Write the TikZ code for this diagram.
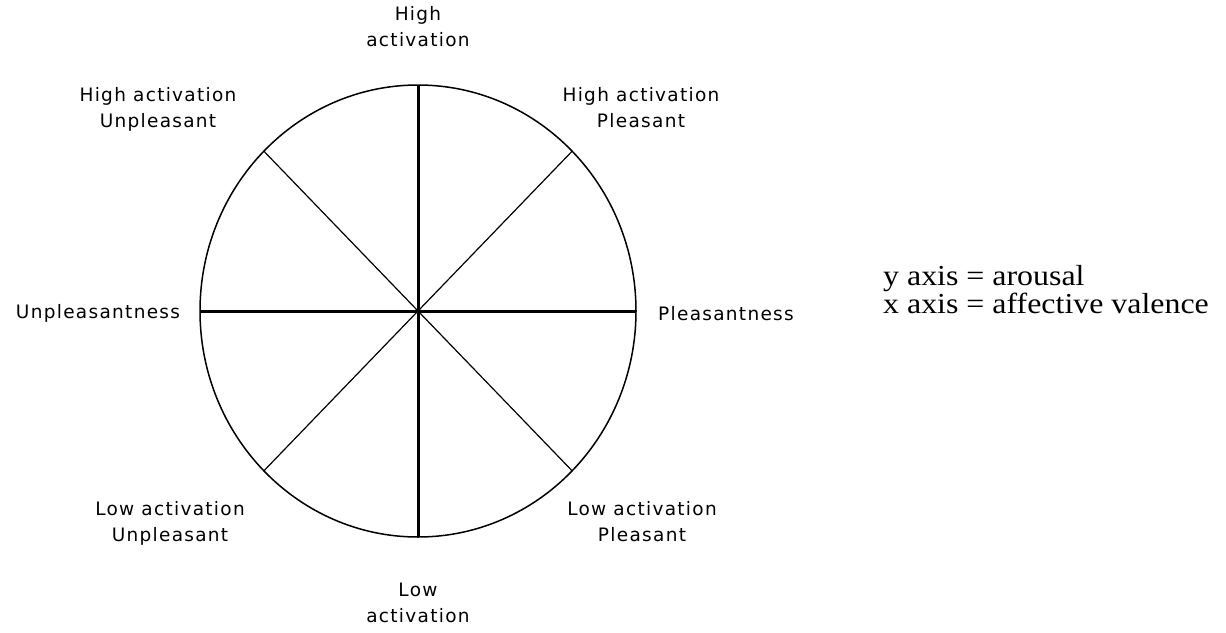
\documentclass[tikz,border=0pt]{standalone}
\usepackage{fontspec}
\newfontfamily\labfont[LetterSpace=7]{DejaVu Sans}
\newfontfamily\notefont[FakeStretch=1.1]{Liberation Serif}
\begin{document}
\begin{tikzpicture}[x=1pt,y=-1pt,
  lab/.style={anchor=base,align=center,inner sep=0pt,font=\labfont\fontsize{18.5}{26}\selectfont},
  note/.style={anchor=base west,align=left,inner sep=0pt,font=\notefont\fontsize{29}{24}\selectfont},
  axis/.style={line width=3pt},
  diag/.style={line width=1.2pt},
  rim/.style={line width=1.5pt}]
\useasboundingbox[fill=white] (0,0) rectangle (1226,632);
\coordinate (C) at (418,311);
\coordinate (N) at (418,85);
\coordinate (S) at (418,537);
\coordinate (W) at (200,311);
\coordinate (E) at (636,311);
\coordinate (NE) at (572.1,151.2);
\coordinate (NW) at (263.9,151.2);
\coordinate (SE) at (572.1,470.8);
\coordinate (SW) at (263.9,470.8);
\draw[rim] (C) ellipse [x radius=218pt, y radius=226pt];
\draw[axis] (N) -- (S);
\draw[axis] (W) -- (E);
\draw[diag] (NE) -- (SW);
\draw[diag] (NW) -- (SE);
\node[lab] (ha) at (418,46) {High\\activation};
\node[lab] (hau) at (158,127) {High activation\\Unpleasant};
\node[lab] (hap) at (641,127) {High activation\\Pleasant};
\node[lab] (un) at (98,318) {Unpleasantness};
\node[lab] (pl) at (726,320) {Pleasantness};
\node[lab] (lau) at (170,541) {Low activation\\Unpleasant};
\node[lab] (lap) at (642,541) {Low activation\\Pleasant};
\node[lab] (la) at (418,622) {Low\\activation};
\node[note] (ax) at (883,313) {y axis = arousal\\x axis = affective valence};
\end{tikzpicture}
\end{document}
